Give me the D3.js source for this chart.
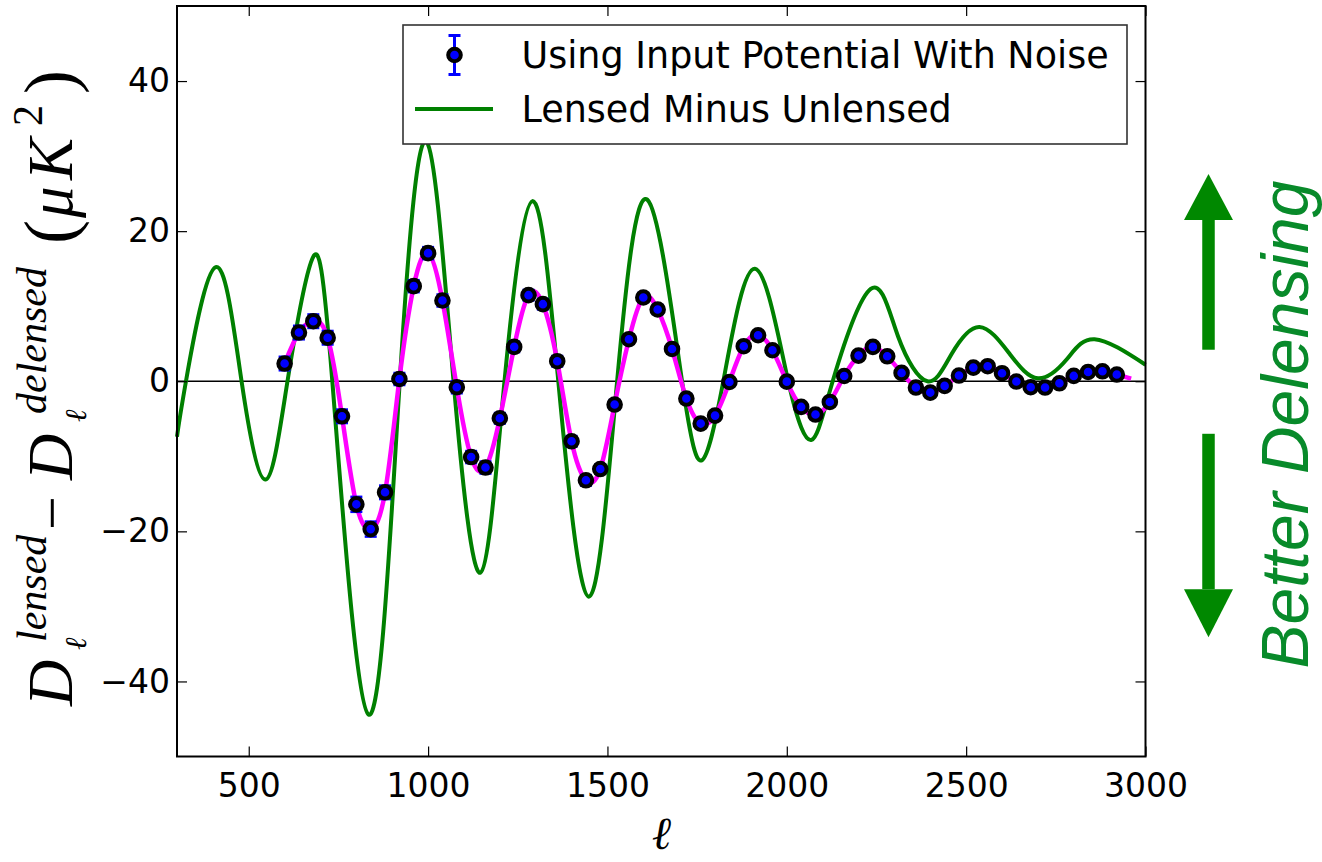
<!DOCTYPE html>
<html>
<head>
<meta charset="utf-8">
<script src="https://cdn.jsdelivr.net/npm/d3@7"></script>
<style>
  html, body { margin: 0; padding: 0; background: #fff; }
  svg { display: block; }
</style>
</head>
<body>
<svg id="chart" width="1322" height="862"></svg>
<script>
// Delensing residual: lensed minus delensed band powers vs multipole ell.

// --- data ---
const pointEll = [600, 640, 680, 720, 760, 800, 840, 880, 920, 960,
  1000, 1040, 1080, 1120, 1160, 1200, 1240, 1280, 1320, 1360,
  1400, 1440, 1480, 1520, 1560, 1600, 1640, 1680, 1720, 1760,
  1800, 1840, 1880, 1920, 1960, 2000, 2040, 2080, 2120, 2160,
  2200, 2240, 2280, 2320, 2360, 2400, 2440, 2480, 2520, 2560,
  2600, 2640, 2680, 2720, 2760, 2800, 2840, 2880, 2920];
const pointVal = [2.36, 6.49, 8.0, 5.8, -4.67, -16.4, -19.7, -14.8, 0.3, 12.67,
  17.07, 10.76, -0.8, -10.1, -11.5, -4.93, 4.58, 11.47, 10.27, 2.67,
  -8.0, -13.2, -11.7, -3.1, 5.6, 11.16, 9.56, 4.3, -2.3, -5.64,
  -4.58, -0.1, 4.67, 6.13, 4.13, -0.05, -3.42, -4.44, -2.76, 0.7,
  3.42, 4.58, 3.33, 1.11, -0.84, -1.51, -0.62, 0.76, 1.82, 2.0,
  1.07, -0.04, -0.8, -0.84, -0.27, 0.71, 1.24, 1.33, 0.89];
const pointErr = [0.9, 0.9, 0.9, 0.9, 0.9, 1.0, 1.0, 0.9, 0.8, 0.8,
  0.8, 0.8, 0.8, 0.8, 0.8, 0.7, 0.7, 0.7, 0.7, 0.7,
  0.7, 0.7, 0.6, 0.6, 0.6, 0.6, 0.6, 0.6, 0.6, 0.5,
  0.5, 0.5, 0.5, 0.5, 0.5, 0.5, 0.4, 0.4, 0.4, 0.4,
  0.4, 0.4, 0.4, 0.4, 0.4, 0.4, 0.3, 0.3, 0.3, 0.3,
  0.3, 0.3, 0.3, 0.3, 0.3, 0.3, 0.3, 0.3, 0.3];

// magenta fit curve (passes through the points, runs a little past the last one)
const fitEll = pointEll.concat([2960]);
const fitVal = pointVal.concat([0.36]);

// green "lensed minus unlensed" curve: extrema, zero crossings, a few shoulders
const greenEll = [300, 325, 408, 480, 547, 608, 677, 733, 834, 921,
  996, 1071, 1146, 1213, 1291, 1363, 1448, 1527, 1611, 1708,
  1764, 1823, 1911, 2004, 2069, 2128, 2234, 2310, 2392, 2459,
  2537, 2622, 2700, 2780, 2858, 3000];
const greenVal = [-7.4, 0, 15.2, 0, -13.1, 0, 16.3, 0, -44.4, 0,
  31.9, 0, -25.5, 0, 24.0, 0, -28.7, 0, 24.2, 0,
  -10.5, 0, 15.0, 0, -7.8, 0, 12.3, 6.0, 0.0, 3.6,
  7.24, 3.6, 0.4, 2.9, 5.6, 2.2];

const xTicks = [500, 1000, 1500, 2000, 2500, 3000];
const yTicks = [-40, -20, 0, 20, 40];

const legendLabels = ['Using Input Potential With Noise', 'Lensed Minus Unlensed'];

// --- layout ---
const M = { left: 177, top: 6, right: 1145.5, bottom: 756.5 };
const GREEN = '#008000';
const ARROW_GREEN = '#008800';

const svg = d3.select('#chart');
const x = d3.scaleLinear().domain([300, 3000]).range([M.left, M.right]);
const y = d3.scaleLinear().domain([-50, 50]).range([M.bottom, M.top]);

const plot = svg.append('g');

// zero line
plot.append('line')
  .attr('x1', M.left).attr('x2', M.right)
  .attr('y1', y(0)).attr('y2', y(0))
  .attr('stroke', '#000').attr('stroke-width', 1.6);

// green curve
const curveLine = d3.line().x(d => x(d[0])).y(d => y(d[1])).curve(d3.curveNatural);
plot.append('path')
  .datum(greenEll.map((l, i) => [l, greenVal[i]]))
  .attr('d', curveLine)
  .attr('fill', 'none').attr('stroke', GREEN).attr('stroke-width', 4);

// magenta curve
plot.append('path')
  .datum(fitEll.map((l, i) => [l, fitVal[i]]))
  .attr('d', curveLine)
  .attr('fill', 'none').attr('stroke', '#ff00ff').attr('stroke-width', 4.5);

// points with error bars
const pts = pointEll.map((l, i) => ({ l, v: pointVal[i], e: pointErr[i] }));
const eb = plot.append('g').attr('stroke', '#0000ff').attr('stroke-width', 2.5);
eb.selectAll('line.bar').data(pts).join('line').attr('class', 'bar')
  .attr('x1', d => x(d.l)).attr('x2', d => x(d.l))
  .attr('y1', d => y(d.v - d.e)).attr('y2', d => y(d.v + d.e));
eb.selectAll('line.caplo').data(pts).join('line').attr('class', 'caplo')
  .attr('x1', d => x(d.l) - 6).attr('x2', d => x(d.l) + 6)
  .attr('y1', d => y(d.v - d.e)).attr('y2', d => y(d.v - d.e));
eb.selectAll('line.caphi').data(pts).join('line').attr('class', 'caphi')
  .attr('x1', d => x(d.l) - 6).attr('x2', d => x(d.l) + 6)
  .attr('y1', d => y(d.v + d.e)).attr('y2', d => y(d.v + d.e));

plot.append('g').selectAll('circle').data(pts).join('circle')
  .attr('cx', d => x(d.l)).attr('cy', d => y(d.v)).attr('r', 6.3)
  .attr('fill', '#0000ff').attr('stroke', '#000').attr('stroke-width', 4);

// --- axes (matplotlib classic: ticks inside, on all four sides) ---
function styleAxis(g) {
  g.select('.domain').remove();
  g.selectAll('.tick line').attr('stroke', '#000').attr('stroke-width', 1.2);
  g.selectAll('.tick text').attr('fill', '#000')
    .attr('font-family', '"DejaVu Sans", sans-serif').attr('font-size', 33);
}
svg.append('g').attr('transform', `translate(0,${M.bottom})`)
  .call(d3.axisBottom(x).tickValues(xTicks).tickFormat(d3.format('d'))
    .tickSizeInner(-10).tickSizeOuter(0).tickPadding(17))
  .call(styleAxis);
svg.append('g').attr('transform', `translate(0,${M.top})`)
  .call(d3.axisTop(x).tickValues(xTicks).tickSizeInner(-10).tickSizeOuter(0).tickFormat(''))
  .call(styleAxis);
svg.append('g').attr('transform', `translate(${M.left},0)`)
  .call(d3.axisLeft(y).tickValues(yTicks).tickSizeInner(-10).tickSizeOuter(0).tickPadding(7))
  .call(styleAxis);
svg.append('g').attr('transform', `translate(${M.right},0)`)
  .call(d3.axisRight(y).tickValues(yTicks).tickSizeInner(-10).tickSizeOuter(0).tickFormat(''))
  .call(styleAxis);

// frame
svg.append('rect')
  .attr('x', M.left).attr('y', M.top)
  .attr('width', M.right - M.left).attr('height', M.bottom - M.top)
  .attr('fill', 'none').attr('stroke', '#000').attr('stroke-width', 2);

// --- legend ---
const lg = svg.append('g');
lg.append('rect').attr('x', 403).attr('y', 25).attr('width', 724).attr('height', 119)
  .attr('fill', '#fff').attr('stroke', '#333').attr('stroke-width', 1.6);
const lgMarkX = 454.5, lgRow1 = 55, lgRow2 = 109;
lg.append('line').attr('x1', lgMarkX).attr('x2', lgMarkX).attr('y1', lgRow1 - 19.5).attr('y2', lgRow1 + 19.5)
  .attr('stroke', '#0000ff').attr('stroke-width', 3);
[lgRow1 - 19.5, lgRow1 + 19.5].forEach(cy => {
  lg.append('line').attr('x1', lgMarkX - 6).attr('x2', lgMarkX + 6).attr('y1', cy).attr('y2', cy)
    .attr('stroke', '#0000ff').attr('stroke-width', 3);
});
lg.append('circle').attr('cx', lgMarkX).attr('cy', lgRow1).attr('r', 6.3)
  .attr('fill', '#0000ff').attr('stroke', '#000').attr('stroke-width', 4);
lg.append('line').attr('x1', 415).attr('x2', 493).attr('y1', lgRow2).attr('y2', lgRow2)
  .attr('stroke', GREEN).attr('stroke-width', 4);
lg.selectAll('text.lbl').data(legendLabels).join('text').attr('class', 'lbl')
  .attr('x', 521.5).attr('y', (d, i) => i === 0 ? 68.3 : 122.3)
  .attr('font-family', '"DejaVu Sans", sans-serif').attr('font-size', 36.5).attr('fill', '#000')
  .text(d => d);

// --- x label: ell ---
svg.append('text')
  .attr('x', (M.left + M.right) / 2).attr('y', 849)
  .attr('text-anchor', 'middle')
  .attr('font-family', '"DejaVu Serif", serif').attr('font-style', 'italic').attr('font-size', 46)
  .text('ℓ');

// --- y label: D_ell^lensed - D_ell^delensed (muK^2), rotated ---
const yl = svg.append('text')
  .attr('transform', 'translate(72,706) rotate(-90)')
  .attr('font-family', '"Liberation Serif", serif').attr('fill', '#000');
const ylParts = [
  { t: 'D', x: 0, y: 0, s: 64, it: true },
  { t: 'lensed', x: 64, y: -26, s: 42, it: true },
  { t: 'ℓ', x: 56, y: 14, s: 30, it: true, alt: true },
  { t: '−', x: 176, y: 0, s: 60, it: false },
  { t: 'D', x: 226, y: 0, s: 64, it: true },
  { t: 'delensed', x: 292, y: -26, s: 42, it: true },
  { t: 'ℓ', x: 284, y: 14, s: 30, it: true, alt: true },
  { t: '(', x: 462, y: 2, s: 72, it: false },
  { t: 'μ', x: 488, y: 0, s: 63, it: true },
  { t: 'K', x: 526, y: 0, s: 63, it: true },
  { t: '2', x: 580, y: -30, s: 42, it: false },
  { t: ')', x: 612, y: 2, s: 72, it: false }
];
ylParts.forEach(p => {
  yl.append('tspan')
    .attr('x', p.x).attr('y', p.y)
    .attr('font-size', p.s)
    .attr('font-style', p.it ? 'italic' : 'normal')
    .attr('font-family', p.alt ? '"DejaVu Serif", serif' : null)
    .text(p.t);
});

// --- "Better Delensing" annotation with arrows ---
const arrowX = 1208.5, shaftW = 12.5, headW = 49;
const arrows = [
  { base: 4.2, head: 21.5, tip: 27.6 },
  { base: -7.0, head: -27.7, tip: -34.1 }
];
arrows.forEach(a => {
  const top = Math.min(y(a.base), y(a.head)), bot = Math.max(y(a.base), y(a.head));
  svg.append('rect').attr('x', arrowX - shaftW / 2).attr('y', top)
    .attr('width', shaftW).attr('height', bot - top).attr('fill', ARROW_GREEN);
  svg.append('path')
    .attr('d', `M${arrowX - headW / 2},${y(a.head)}L${arrowX + headW / 2},${y(a.head)}L${arrowX},${y(a.tip)}Z`)
    .attr('fill', ARROW_GREEN);
});
svg.append('text')
  .attr('transform', 'translate(1307.5,424.5) rotate(-90)')
  .attr('text-anchor', 'middle')
  .attr('font-family', '"Liberation Sans", Arial, sans-serif').attr('font-style', 'italic')
  .attr('font-size', 66).attr('fill', '#088a2a')
  .text('Better Delensing');
</script>
</body>
</html>
